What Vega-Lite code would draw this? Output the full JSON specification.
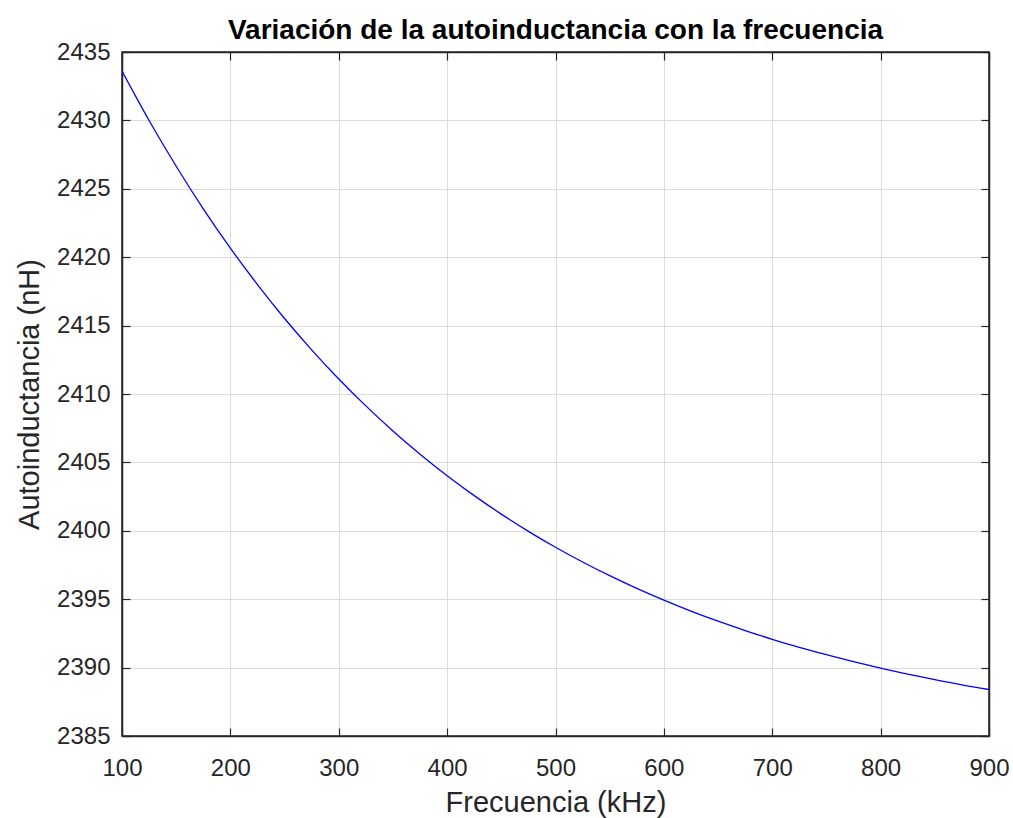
{
  "$schema": "https://vega.github.io/schema/vega-lite/v6.json",
  "width": 867,
  "height": 684,
  "autosize": {"type": "none"},
  "padding": {"left": 122, "top": 52, "right": 24, "bottom": 82},
  "background": "white",
  "title": {
    "text": "Variación de la autoinductancia con la frecuencia",
    "font": "Liberation Sans",
    "fontSize": 28,
    "fontWeight": "bold",
    "color": "#000000",
    "anchor": "middle",
    "frame": "group",
    "offset": -5
  },
  "config": {
    "view": {"stroke": "#262626", "strokeWidth": 1.5},
    "axis": {
      "labelFont": "Liberation Sans",
      "titleFont": "Liberation Sans",
      "labelColor": "#262626",
      "titleColor": "#262626",
      "domainColor": "#262626",
      "domainWidth": 1.5,
      "tickColor": "#262626",
      "tickWidth": 1.2,
      "gridColor": "#dcdcdc",
      "gridWidth": 1,
      "titleFontWeight": "normal"
    }
  },
  "data": {
    "values": [
      {"f": 100, "L": 2433.60},
      {"f": 125, "L": 2429.99},
      {"f": 150, "L": 2426.65},
      {"f": 175, "L": 2423.54},
      {"f": 200, "L": 2420.66},
      {"f": 225, "L": 2418.00},
      {"f": 250, "L": 2415.52},
      {"f": 275, "L": 2413.23},
      {"f": 300, "L": 2411.10},
      {"f": 325, "L": 2409.13},
      {"f": 350, "L": 2407.30},
      {"f": 375, "L": 2405.60},
      {"f": 400, "L": 2404.03},
      {"f": 425, "L": 2402.57},
      {"f": 450, "L": 2401.22},
      {"f": 475, "L": 2399.96},
      {"f": 500, "L": 2398.80},
      {"f": 525, "L": 2397.72},
      {"f": 550, "L": 2396.72},
      {"f": 575, "L": 2395.79},
      {"f": 600, "L": 2394.93},
      {"f": 625, "L": 2394.13},
      {"f": 650, "L": 2393.39},
      {"f": 675, "L": 2392.71},
      {"f": 700, "L": 2392.07},
      {"f": 725, "L": 2391.48},
      {"f": 750, "L": 2390.94},
      {"f": 775, "L": 2390.43},
      {"f": 800, "L": 2389.96},
      {"f": 825, "L": 2389.52},
      {"f": 850, "L": 2389.12},
      {"f": 875, "L": 2388.74},
      {"f": 900, "L": 2388.40}
    ]
  },
  "resolve": {"axis": {"x": "independent", "y": "independent"}},
  "layer": [
    {
      "mark": {"type": "line", "color": "#0000ff", "strokeWidth": 1.3, "interpolate": "monotone", "clip": true},
      "encoding": {
        "x": {
          "field": "f",
          "type": "quantitative",
          "scale": {"domain": [100, 900], "nice": false, "zero": false},
          "axis": {
            "orient": "bottom",
            "title": "Frecuencia (kHz)",
            "titleFontSize": 29,
            "titlePadding": 8,
            "labelFontSize": 24,
            "labelPadding": 28,
            "tickSize": -8,
            "format": "d",
            "values": [100, 200, 300, 400, 500, 600, 700, 800, 900],
            "grid": true,
            "labelOverlap": false,
            "labelFlush": false
          }
        },
        "y": {
          "field": "L",
          "type": "quantitative",
          "scale": {"domain": [2385, 2435], "nice": false, "zero": false},
          "axis": {
            "orient": "left",
            "title": "Autoinductancia (nH)",
            "titleFontSize": 29,
            "titlePadding": 12,
            "labelFontSize": 24,
            "labelPadding": 20,
            "tickSize": -8,
            "format": "d",
            "values": [2385, 2390, 2395, 2400, 2405, 2410, 2415, 2420, 2425, 2430, 2435],
            "grid": true,
            "labelOverlap": false,
            "labelFlush": false
          }
        }
      }
    },
    {
      "mark": {"type": "line", "strokeOpacity": 0},
      "encoding": {
        "x": {
          "field": "f",
          "type": "quantitative",
          "scale": {"domain": [100, 900], "nice": false, "zero": false},
          "axis": {
            "orient": "top",
            "title": null,
            "labels": false,
            "tickSize": -8,
            "values": [100, 200, 300, 400, 500, 600, 700, 800, 900],
            "grid": false
          }
        },
        "y": {
          "field": "L",
          "type": "quantitative",
          "scale": {"domain": [2385, 2435], "nice": false, "zero": false},
          "axis": {
            "orient": "right",
            "title": null,
            "labels": false,
            "tickSize": -8,
            "values": [2385, 2390, 2395, 2400, 2405, 2410, 2415, 2420, 2425, 2430, 2435],
            "grid": false
          }
        }
      }
    }
  ]
}
